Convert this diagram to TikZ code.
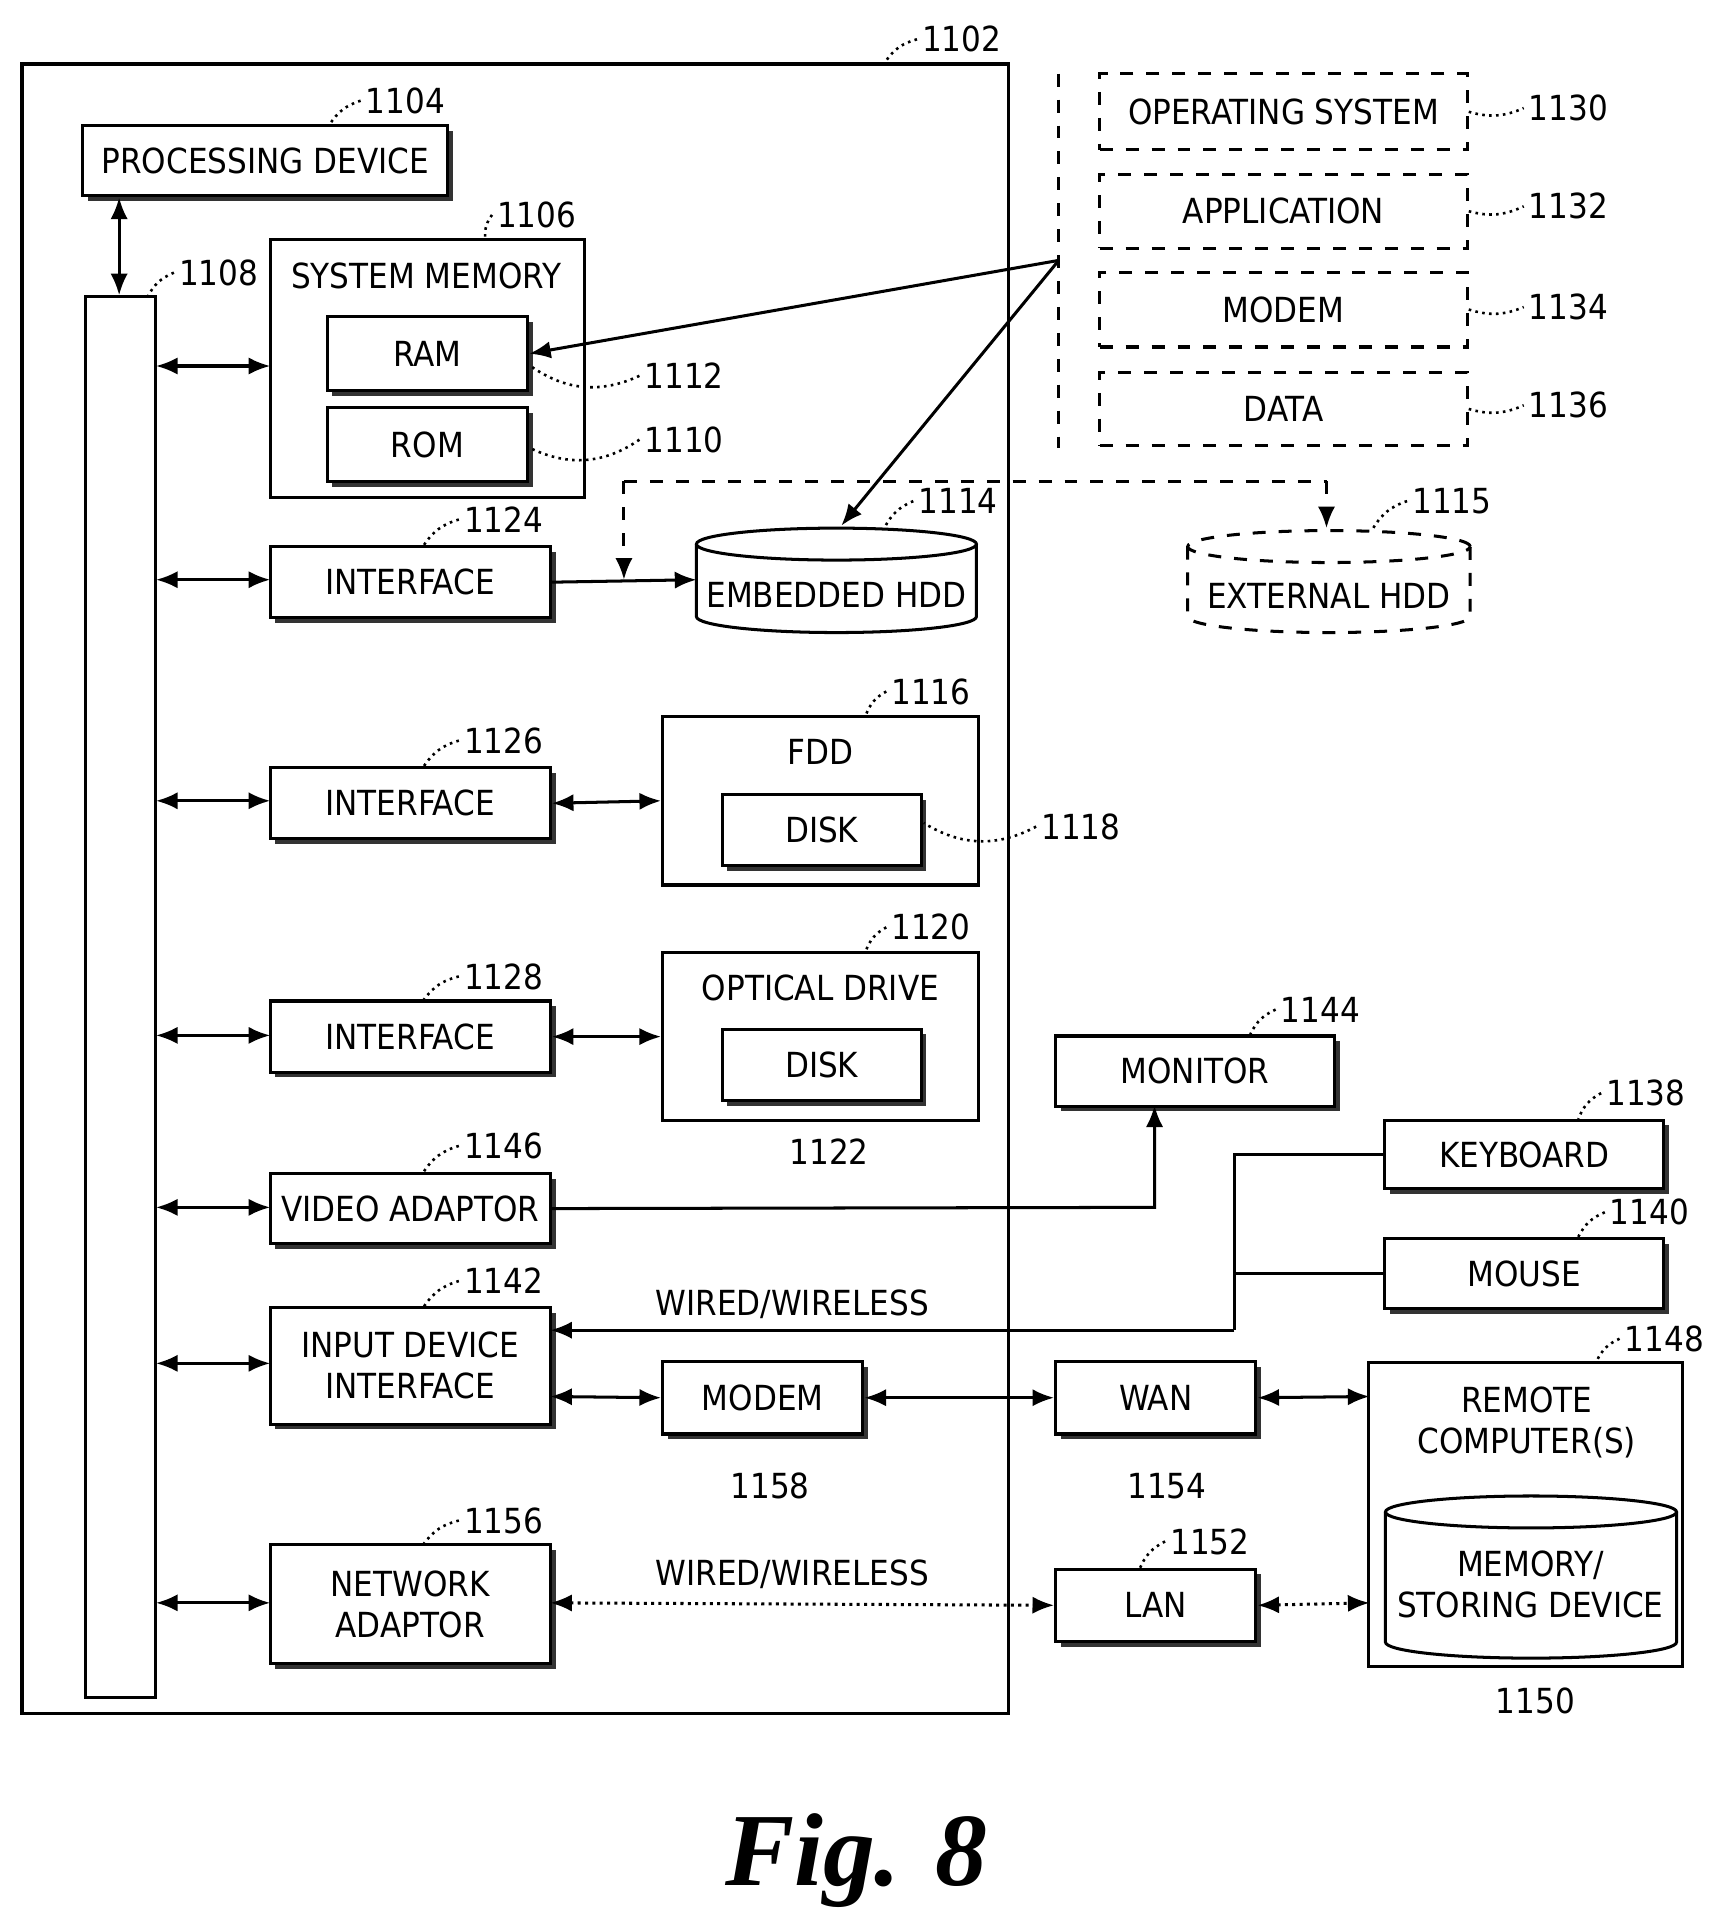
\documentclass[tikz,border=0pt]{standalone}
\usepackage{fontspec}
\setmainfont{DejaVu Sans Condensed}
\newfontfamily\figfont{Liberation Serif}
\usetikzlibrary{arrows.meta,shapes.geometric,shadows}
\newcommand\mycyl[6]{% name, x1,y1,x2,y2, style
  \node[inner sep=0pt,minimum width={(#4-#2)*0.01cm},minimum height={(#5-#3)*0.01cm}] (#1) at ({(#2+#4)/2},{(#3+#5)/2}) {};
  \draw[line width=0.7pt,#6] (#2,#3+13) -- (#2,#5-13) arc[start angle=180,end angle=360,x radius={(#4-#2)/2*0.01cm},y radius=0.13cm] -- (#4,#3+13);
  \draw[line width=0.7pt,#6] ({(#2+#4)/2},#3+13) ellipse[x radius={(#4-#2)/2*0.01cm},y radius=0.13cm];
}
\begin{document}
\begin{tikzpicture}[x=0.01cm,y=-0.01cm,
  every node/.style={font=\fontsize{8pt}{9.5pt}\selectfont},
  box/.style={draw,line width=0.7pt,drop shadow={shadow xshift=1.2pt,shadow yshift=-1.2pt,opacity=1,fill=black!80},fill=white,inner sep=0pt,align=center},
  dbox/.style={draw,dashed,line width=0.7pt,inner sep=0pt,align=center},
  lbl/.style={inner sep=1pt},
  leader/.style={densely dotted,line width=0.6pt},
  conn/.style={line width=0.7pt,{Latex[length=5pt,width=4pt]}-{Latex[length=5pt,width=4pt]}},
  one/.style={line width=0.7pt,-{Latex[length=5pt,width=4pt]}},
]
\useasboundingbox (0,0) rectangle (1410,1573);
% outer
\draw[line width=0.8pt] (18,52) rectangle (821,1395);
\node[lbl] (l1102) at (783,32) {1102};
\draw[leader] (l1102.west) to[bend right=20] (721,50);
% processing device
\node[box,minimum width=2.97cm,minimum height=0.57cm] (pd) at (216,131) {PROCESSING DEVICE};
\node[lbl] (l1104) at (330,82) {1104};
\draw[leader] (l1104.west) to[bend right=20] (268,102);
% bus
\node[draw,line width=0.7pt,minimum width=0.57cm,minimum height=11.4cm,inner sep=0pt] (bus) at (98,812) {};
\node[lbl] (l1108) at (178,222) {1108};
\draw[leader] (l1108.west) to[bend right=20] (120,242);
\draw[conn] (pd.south -| 97,0) -- (bus.north -| 97,0);
% system memory
\node[draw,line width=0.7pt,minimum width=2.56cm,minimum height=2.1cm,inner sep=0pt] (sm) at (348,300) {};
\node (smt) at (347,225) {SYSTEM MEMORY};
\node[lbl] (l1106) at (437,175) {1106};
\draw[leader] (l1106.west) to[bend right=20] (395,194);
\node[box,minimum width=1.63cm,minimum height=0.6cm] (ram) at (348,288) {RAM};
\node[box,minimum width=1.63cm,minimum height=0.6cm] (rom) at (348,362) {ROM};
\node[lbl] (l1112) at (557,306) {1112};
\draw[leader] (l1112.west) to[bend left=30] (432,298);
\node[lbl] (l1110) at (557,358) {1110};
\draw[leader] (l1110.west) to[bend left=30] (432,365);
% interfaces
\node[box,minimum width=2.28cm,minimum height=0.58cm] (if1) at (334,474) {INTERFACE};
\node[lbl] (l1124) at (410,423) {1124};
\draw[leader] (l1124.west) to[bend right=20] (345,444);
\node[box,minimum width=2.28cm,minimum height=0.58cm] (if2) at (334,654) {INTERFACE};
\node[lbl] (l1126) at (410,603) {1126};
\draw[leader] (l1126.west) to[bend right=20] (345,624);
\node[box,minimum width=2.28cm,minimum height=0.58cm] (if3) at (334,844) {INTERFACE};
\node[lbl] (l1128) at (410,795) {1128};
\draw[leader] (l1128.west) to[bend right=20] (345,814);
\node[box,minimum width=2.28cm,minimum height=0.57cm] (va) at (334,984) {VIDEO ADAPTOR};
\node[lbl] (l1146) at (410,933) {1146};
\draw[leader] (l1146.west) to[bend right=20] (345,954);
\node[box,minimum width=2.28cm,minimum height=0.95cm] (idi) at (334,1112) {INPUT DEVICE\\INTERFACE};
\node[lbl] (l1142) at (410,1043) {1142};
\draw[leader] (l1142.west) to[bend right=20] (345,1064);
\node[box,minimum width=2.28cm,minimum height=0.97cm] (na) at (334,1306) {NETWORK\\ADAPTOR};
\node[lbl] (l1156) at (410,1238) {1156};
\draw[leader] (l1156.west) to[bend right=20] (345,1257);
% bus connections
\foreach \y in {298,472,652,843,983,1110,1305}
  \draw[conn] (127,\y) -- (220,\y);
% embedded hdd
\mycyl{ehdd}{567}{430}{795}{515}{}
\node at (681,484) {EMBEDDED HDD};
\node[lbl] (l1114) at (780,408) {1114};
\draw[leader] (l1114.west) to[bend right=20] (720,430);
\draw[one] (if1.east) -- (567,472);
% external
\mycyl{xhdd}{967}{432}{1197}{515}{dashed}
\node at (1082,485) {EXTERNAL HDD};
\node[lbl] (l1115) at (1182,408) {1115};
\draw[leader] (l1115.west) to[bend right=20] (1118,430);
\coordinate (dj) at (508,472);
\draw[dashed,line width=0.7pt] (508,392) -- (1080,392);
\draw[dashed,line width=0.7pt,-{Latex[length=5pt,width=4pt]}] (508,392) -- (dj);
\draw[dashed,line width=0.7pt,-{Latex[length=5pt,width=4pt]}] (1080,392) -- (1080,430);
% software group
\draw[dashed,line width=0.7pt] (862,60) -- (862,365);
\coordinate (sw) at (862,212);
\node[dbox,minimum width=2.99cm,minimum height=0.62cm] (os) at (1045,91) {OPERATING SYSTEM};
\node[dbox,minimum width=2.99cm,minimum height=0.6cm] (app) at (1045,172) {APPLICATION};
\node[dbox,minimum width=2.99cm,minimum height=0.61cm] (mod) at (1045,252) {MODEM};
\node[dbox,minimum width=2.99cm,minimum height=0.6cm] (dat) at (1045,333) {DATA};
\node[lbl] (l1130) at (1277,88) {1130};
\node[lbl] (l1132) at (1277,168) {1132};
\node[lbl] (l1134) at (1277,250) {1134};
\node[lbl] (l1136) at (1277,330) {1136};
\foreach \a/\b in {os/l1130,app/l1132,mod/l1134,dat/l1136}
  \draw[leader] (\a.east) to[bend right=20] (\b.west);
\draw[one] (sw) -- (ram.east);
\draw[one] (sw) -- (685,428);
% FDD
\node[draw,line width=0.7pt,minimum width=2.57cm,minimum height=1.37cm,inner sep=0pt] (fdd) at (668,652) {};
\node at (668,612) {FDD};
\node[box,minimum width=1.62cm,minimum height=0.58cm] (d1) at (669,676) {DISK};
\node[lbl] (l1116) at (758,563) {1116};
\draw[leader] (l1116.west) to[bend right=20] (705,582);
\node[lbl] (l1118) at (880,673) {1118};
\draw[leader] (l1118.west) to[bend left=30] (752,670);
\draw[conn] (if2.east) -- (fdd.west);
% optical
\node[draw,line width=0.7pt,minimum width=2.57cm,minimum height=1.37cm,inner sep=0pt] (opt) at (668,844) {};
\node at (668,804) {OPTICAL DRIVE};
\node[box,minimum width=1.62cm,minimum height=0.58cm] (d2) at (669,867) {DISK};
\node[lbl] (l1120) at (758,755) {1120};
\draw[leader] (l1120.west) to[bend right=20] (705,774);
\node[lbl] (l1122) at (675,938) {1122};
\draw[conn] (if3.east) -- (opt.west);
% monitor
\node[box,minimum width=2.27cm,minimum height=0.57cm] (mon) at (973,872) {MONITOR};
\node[lbl] (l1144) at (1075,822) {1144};
\draw[leader] (l1144.west) to[bend right=20] (1018,842);
\draw[one] (va.east) -- (940,983) -- (940,900);
% keyboard / mouse
\node[box,minimum width=2.27cm,minimum height=0.56cm] (kb) at (1241,940) {KEYBOARD};
\node[lbl] (l1138) at (1340,890) {1138};
\draw[leader] (l1138.west) to[bend right=20] (1285,911);
\node[box,minimum width=2.27cm,minimum height=0.57cm] (ms) at (1241,1037) {MOUSE};
\node[lbl] (l1140) at (1343,987) {1140};
\draw[leader] (l1140.west) to[bend right=20] (1285,1007);
\draw[line width=0.7pt] (kb.west) -- (1005,940) -- (1005,1083);
\draw[line width=0.7pt] (ms.west) -- (1005,1037);
\draw[one] (1005,1083) -- (448,1083);
\node at (645,1062) {WIRED/WIRELESS};
% modem / wan
\node[box,minimum width=1.63cm,minimum height=0.59cm] (mdm) at (621,1138) {MODEM};
\node[lbl] (l1158) at (627,1210) {1158};
\node[box,minimum width=1.63cm,minimum height=0.59cm] (wan) at (941,1138) {WAN};
\node[lbl] (l1154) at (950,1210) {1154};
\draw[conn] (448,1137) -- (mdm.west);
\draw[conn] (mdm.east) -- (wan.west);
% remote
\node[draw,line width=0.7pt,minimum width=2.55cm,minimum height=2.47cm,inner sep=0pt] (rc) at (1242,1233) {};
\node[align=center] (rct) at (1243,1158) {REMOTE\\COMPUTER(S)};
\mycyl{msd}{1128}{1218}{1365}{1350}{}
\node[align=center] at (1246,1290) {MEMORY/\\STORING DEVICE};
\node[lbl] (l1148) at (1355,1090) {1148};
\draw[leader] (l1148.west) to[bend right=20] (1300,1108);
\node[lbl] (l1150) at (1250,1385) {1150};
\draw[conn] (wan.east) -- (1115,1137);
% LAN
\node[box,minimum width=1.63cm,minimum height=0.59cm] (lan) at (941,1307) {LAN};
\node[lbl] (l1152) at (985,1255) {1152};
\draw[leader] (l1152.west) to[bend right=20] (928,1277);
\draw[conn,densely dotted] (448,1305) -- (lan.west);
\draw[conn,densely dotted] (lan.east) -- (1115,1305);
\node at (645,1282) {WIRED/WIRELESS};
% caption
\node (fig) at (697,1515) {\figfont\fontsize{24pt}{28pt}\selectfont\bfseries\itshape Fig. 8};
\end{tikzpicture}
\end{document}
